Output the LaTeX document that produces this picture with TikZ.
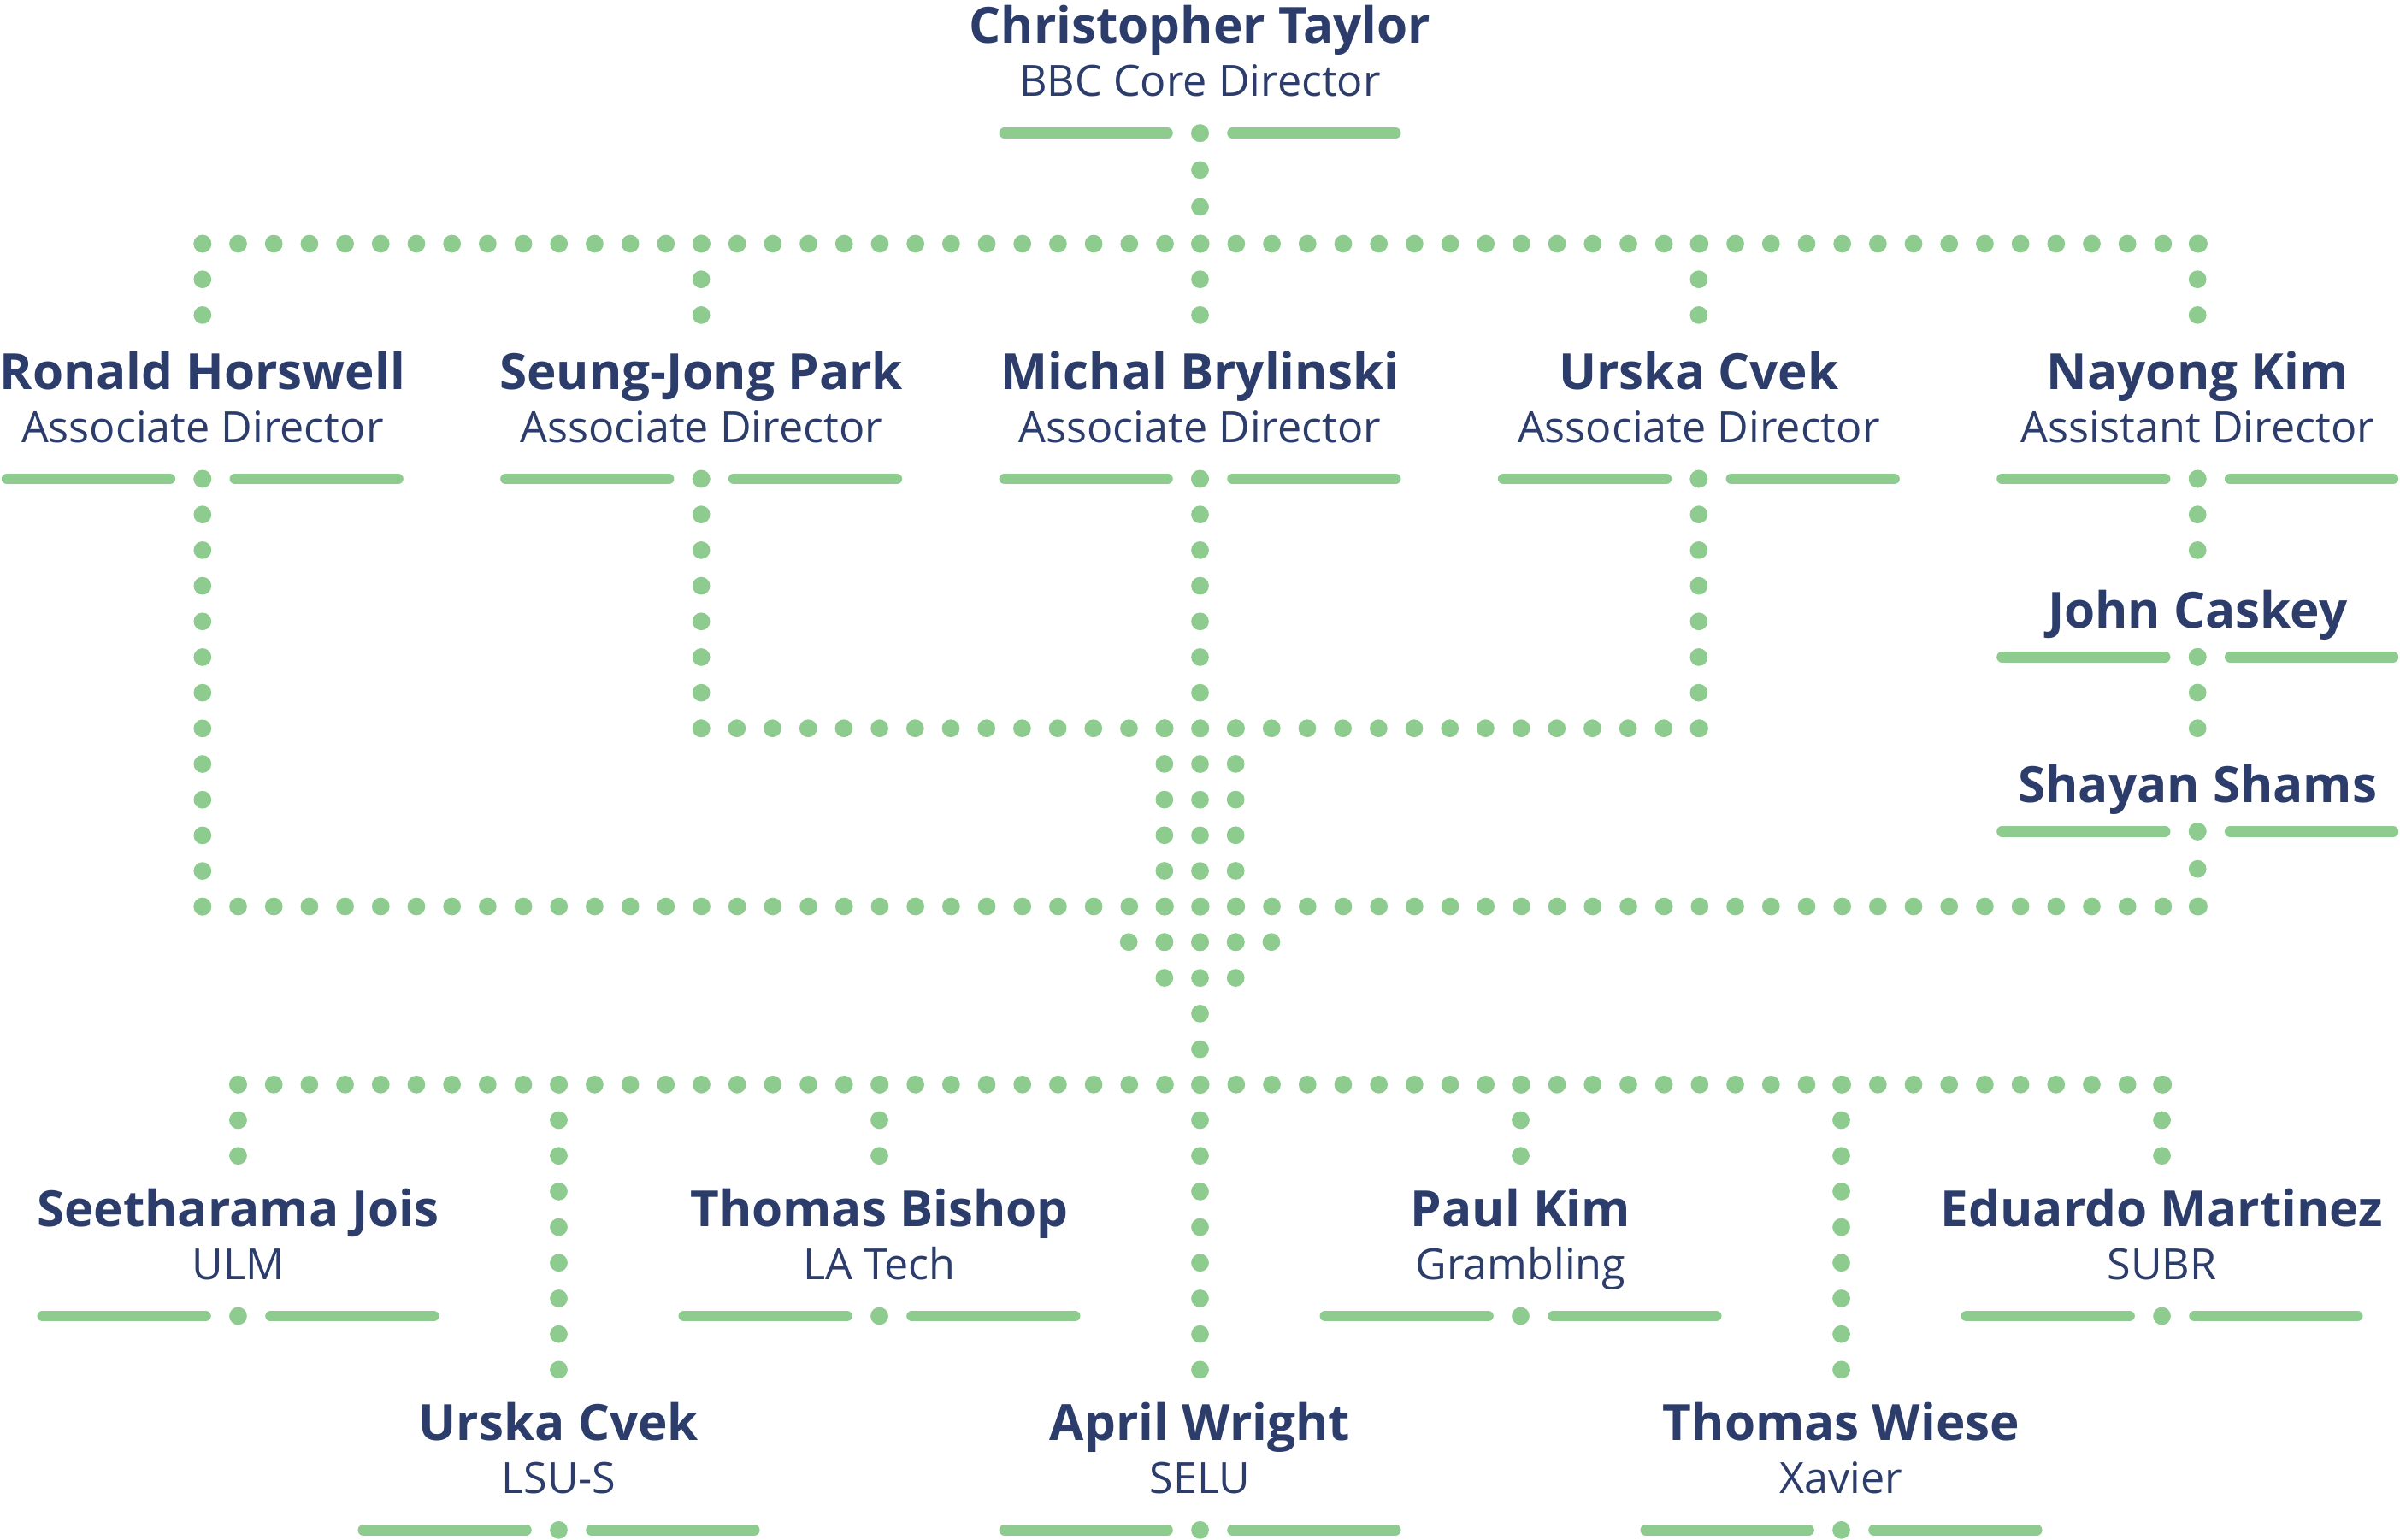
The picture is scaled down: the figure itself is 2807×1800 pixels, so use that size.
\documentclass[tikz,border=0pt]{standalone}
\usepackage{fontspec}
\setmainfont{Open Sans}
\usetikzlibrary{calc}
\definecolor{navy}{RGB}{44,61,107}
\definecolor{leaf}{RGB}{142,203,143}
\tikzset{
  nm/.style={anchor=base, inner sep=0pt, text=navy, font=\fontsize{16.6}{20}\selectfont\bfseries},
  sb/.style={anchor=base, inner sep=0pt, text=navy, font=\fontsize{14.3}{17}\selectfont},
  barline/.style={draw=leaf, line width=0.127cm, line cap=round},
  conn/.style={draw=leaf, line width=0.207cm, line cap=round, dash pattern=on 0pt off 0.41667cm, shorten >=-0.05cm},
}
% id, x, ybar, name, subtitle
\newcommand\person[5]{%
  \coordinate (#1) at (#2,#3);
  \node[nm] (#1-n) at (#2,#3-105) {#4};
  \node[sb] (#1-s) at (#2,#3-43) {#5};
  \path[barline] (#2-228.65,#3) -- (#2-38.05,#3);
  \path[barline] (#2+38.05,#3) -- (#2+228.65,#3);
  \fill[leaf] (#1) circle (10.35);
}
% id, x, ybar, name (no subtitle)
\newcommand\personn[4]{%
  \coordinate (#1) at (#2,#3);
  \node[nm] (#1-n) at (#2,#3-34) {#4};
  \path[barline] (#2-228.65,#3) -- (#2-38.05,#3);
  \path[barline] (#2+38.05,#3) -- (#2+228.65,#3);
  \fill[leaf] (#1) circle (10.35);
}
\begin{document}
\begin{tikzpicture}[x=0.01cm,y=-0.01cm]
\def\pp{41.667}
\def\cx{1403.5}
\useasboundingbox (0,0) rectangle (2807,1800);

% people
\person{ct}{\cx}{155.7}{Christopher Taylor}{BBC Core Director}
\person{rh}{\cx-28*\pp}{560}{Ronald Horswell}{Associate Director}
\person{sp}{\cx-14*\pp}{560}{Seung-Jong Park}{Associate Director}
\person{mb}{\cx}{560}{Michal Brylinski}{Associate Director}
\person{uc}{\cx+14*\pp}{560}{Urska Cvek}{Associate Director}
\person{nk}{\cx+28*\pp}{560}{Nayong Kim}{Assistant Director}
\personn{jc}{\cx+28*\pp}{768.3}{John Caskey}
\personn{ss}{\cx+28*\pp}{972.3}{Shayan Shams}
\person{sj}{\cx-27*\pp}{1539}{Seetharama Jois}{ULM}
\person{tb}{\cx-9*\pp}{1539}{Thomas Bishop}{LA Tech}
\person{pk}{\cx+9*\pp}{1539}{Paul Kim}{Grambling}
\person{em}{\cx+27*\pp}{1539}{Eduardo Martinez}{SUBR}
\person{uc2}{\cx-18*\pp}{1789.3}{Urska Cvek}{LSU-S}
\person{aw}{\cx}{1789.3}{April Wright}{SELU}
\person{tw}{\cx+18*\pp}{1789.3}{Thomas Wiese}{Xavier}

% bus coordinates
\coordinate (tbL) at (\cx-28*\pp,285);
\coordinate (tbC) at (\cx,285);
\coordinate (tbR) at (\cx+28*\pp,285);
\coordinate (m1L) at (\cx-14*\pp,851.7);
\coordinate (m1R) at (\cx+14*\pp,851.7);
\coordinate (m2L) at (\cx-28*\pp,1060);
\coordinate (m2R) at (\cx+28*\pp,1060);
\coordinate (m3L) at (\cx-27*\pp,1268.3);
\coordinate (m3R) at (\cx+27*\pp,1268.3);
\coordinate (k1) at (\cx-\pp,851.7);
\coordinate (k2) at (\cx+\pp,851.7);
\coordinate (k3) at (\cx-2*\pp,1101.7);
\coordinate (k4) at (\cx+2*\pp,1101.7);

% top level
\draw[conn, dash pattern=on 0pt off 0.431cm] (ct) -- (tbC);
\draw[conn] (tbL) -- (tbR);
\foreach \n in {rh,sp,mb,uc,nk}
  \draw[conn] (\n |- tbL) -- ++(0,2*\pp);

% second level
\draw[conn] (rh) -- (m2L);
\draw[conn] (sp) -- (m1L);
\draw[conn] (uc) -- (m1R);
\draw[conn] (mb) -- (mb |- m3L);
\draw[conn] (nk) -- ++(0,2*\pp);
\draw[conn] (jc) -- ++(0,2*\pp);
\draw[conn, dash pattern=on 0pt off 0.4385cm] (ss) -- (m2R);
\draw[conn] (m1L) -- (m1R);
\draw[conn] (m2L) -- (m2R);
\draw[conn] (k1) -- ++(0,7*\pp);
\draw[conn] (k2) -- ++(0,7*\pp);
\draw[conn] (k3) -- (k4);

% bottom level
\draw[conn] (m3L) -- (m3R);
\foreach \n in {sj,tb,pk,em}
  \draw[conn] (\n |- m3L) -- ++(0,2*\pp);
\foreach \n in {uc2,aw,tw}
  \draw[conn] (\n |- m3L) -- ++(0,8*\pp);
\end{tikzpicture}
\end{document}
